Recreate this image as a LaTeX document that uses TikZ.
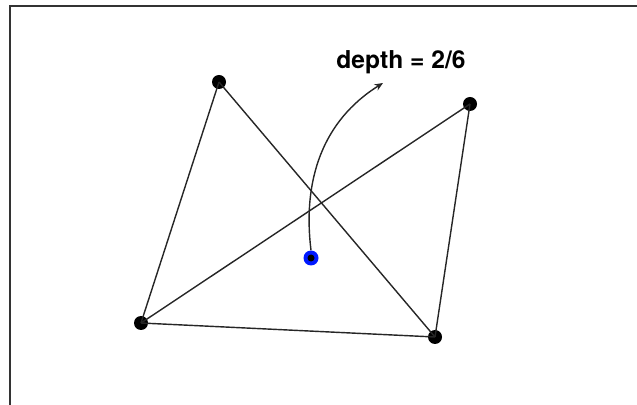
\documentclass[tikz,border=0pt]{standalone}
\usepackage{fontspec}
\setmainfont{TeX Gyre Heros}
\usetikzlibrary{arrows.meta}

\begin{document}
\begin{tikzpicture}[
  x=0.025cm, y=-0.025cm,
  edge/.style={line width=1pt, black!85},
  vert/.style={circle, fill=black, inner sep=0pt, minimum size=14*0.025cm},
  query/.style={circle, fill=blue!90!cyan, inner sep=0pt, minimum size=15*0.025cm},
  curve/.style={-{Stealth[length=6pt, width=5pt]}, line width=1pt, black!85},
  lbl/.style={font=\bfseries\fontsize{17.5}{20}\selectfont}
]
  % cadre
  \useasboundingbox (0,0) rectangle (637,405);
  \clip (0,0) rectangle (637,405);
  \draw[line width=1.6pt, black!80] (10,6) rectangle (700,460);

  % sommets
  \node[vert] (a) at (219,82)  {};
  \node[vert] (b) at (470,104) {};
  \node[vert] (c) at (141,323) {};
  \node[vert] (d) at (435,337) {};

  % aretes
  \foreach \u/\v in {a/c, a/d, c/b, b/d, c/d} \draw[edge] (\u.center) -- (\v.center);

  % point requete
  \node[query] (p) at (311,258) {};
  \node[circle, fill=black, inner sep=0pt, minimum size=7*0.025cm] at (p) {};

  % etiquette
  \node[lbl] (t) at (401,62) {depth = 2/6};
  \coordinate (tip) at (383,83);
  \draw[curve] (p.north) to[out=97, in=212] (tip);
\end{tikzpicture}
\end{document}
